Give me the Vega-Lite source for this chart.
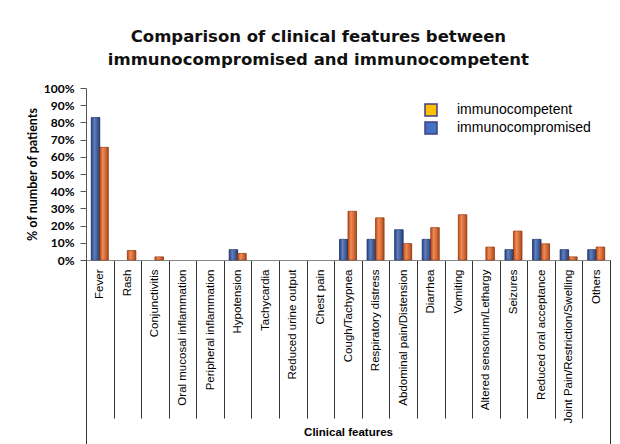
{
  "$schema": "https://vega.github.io/schema/vega-lite/v6.json",
  "width": 524,
  "height": 172,
  "autosize": {"type": "none"},
  "padding": {"left": 86, "top": 88, "right": 10, "bottom": 184},
  "background": "white",
  "title": {
    "text": ["Comparison of clinical features between", "immunocompromised and immunocompetent"],
    "font": "DejaVu Sans",
    "fontSize": 16.5,
    "fontWeight": "bold",
    "color": "#111111",
    "lineHeight": 23,
    "anchor": "middle",
    "frame": "bounds",
    "offset": 14
  },
  "data": {
    "values": [
      {"feature": "Fever", "group": "immunocompromised", "pct": 82.8},
      {"feature": "Fever", "group": "immunocompetent", "pct": 65.5},
      {"feature": "Rash", "group": "immunocompromised", "pct": 0},
      {"feature": "Rash", "group": "immunocompetent", "pct": 5.5},
      {"feature": "Conjunctivitis", "group": "immunocompromised", "pct": 0},
      {"feature": "Conjunctivitis", "group": "immunocompetent", "pct": 1.8},
      {"feature": "Oral mucosal inflammation", "group": "immunocompromised", "pct": 0},
      {"feature": "Oral mucosal inflammation", "group": "immunocompetent", "pct": 0},
      {"feature": "Peripheral inflammation", "group": "immunocompromised", "pct": 0},
      {"feature": "Peripheral inflammation", "group": "immunocompetent", "pct": 0},
      {"feature": "Hypotension", "group": "immunocompromised", "pct": 6},
      {"feature": "Hypotension", "group": "immunocompetent", "pct": 3.8},
      {"feature": "Tachycardia", "group": "immunocompromised", "pct": 0},
      {"feature": "Tachycardia", "group": "immunocompetent", "pct": 0},
      {"feature": "Reduced urine output", "group": "immunocompromised", "pct": 0},
      {"feature": "Reduced urine output", "group": "immunocompetent", "pct": 0},
      {"feature": "Chest pain", "group": "immunocompromised", "pct": 0},
      {"feature": "Chest pain", "group": "immunocompetent", "pct": 0},
      {"feature": "Cough/Tachypnea", "group": "immunocompromised", "pct": 12},
      {"feature": "Cough/Tachypnea", "group": "immunocompetent", "pct": 28.3},
      {"feature": "Respiratory distress", "group": "immunocompromised", "pct": 12},
      {"feature": "Respiratory distress", "group": "immunocompetent", "pct": 24.5},
      {"feature": "Abdominal pain/Distension", "group": "immunocompromised", "pct": 17.6},
      {"feature": "Abdominal pain/Distension", "group": "immunocompetent", "pct": 9.5},
      {"feature": "Diarrhea", "group": "immunocompromised", "pct": 12},
      {"feature": "Diarrhea", "group": "immunocompetent", "pct": 18.8},
      {"feature": "Vomiting", "group": "immunocompromised", "pct": 0},
      {"feature": "Vomiting", "group": "immunocompetent", "pct": 26.3},
      {"feature": "Altered sensorium/Lethargy", "group": "immunocompromised", "pct": 0},
      {"feature": "Altered sensorium/Lethargy", "group": "immunocompetent", "pct": 7.5},
      {"feature": "Seizures", "group": "immunocompromised", "pct": 6},
      {"feature": "Seizures", "group": "immunocompetent", "pct": 16.8},
      {"feature": "Reduced oral acceptance", "group": "immunocompromised", "pct": 12},
      {"feature": "Reduced oral acceptance", "group": "immunocompetent", "pct": 9.4},
      {"feature": "Joint Pain/Restriction/Swelling", "group": "immunocompromised", "pct": 6},
      {"feature": "Joint Pain/Restriction/Swelling", "group": "immunocompetent", "pct": 1.8},
      {"feature": "Others", "group": "immunocompromised", "pct": 6},
      {"feature": "Others", "group": "immunocompetent", "pct": 7.5}
    ]
  },
  "encoding": {
    "x": {
      "field": "feature",
      "type": "nominal",
      "sort": null,
      "scale": {"paddingInner": 0, "paddingOuter": 0}
    },
    "xOffset": {
      "field": "group",
      "type": "nominal",
      "sort": ["immunocompromised", "immunocompetent"],
      "scale": {"paddingInner": 0, "paddingOuter": 0.62}
    },
    "y": {
      "field": "pct",
      "type": "quantitative",
      "scale": {"domain": [0, 100], "nice": false},
      "axis": {
        "title": "% of number of patients",
        "titleFont": "Lato",
        "titleFontSize": 12.5,
        "titleFontWeight": "bold",
        "titleColor": "#000000",
        "titlePadding": 4,
        "values": [0, 10, 20, 30, 40, 50, 60, 70, 80, 90, 100],
        "labelExpr": "datum.value + '%'",
        "labelFont": "Lato",
        "labelFontSize": 12,
        "labelFontWeight": "bold",
        "labelColor": "#000000",
        "labelPadding": 6,
        "tickSize": 6,
        "tickColor": "#555555",
        "domainColor": "#555555",
        "grid": false
      }
    }
  },
  "layer": [
    {
      "mark": {"type": "bar", "strokeWidth": 0.8},
      "encoding": {
        "x": {
          "field": "feature",
          "type": "nominal",
          "sort": null,
          "axis": {
            "orient": "bottom",
            "title": "Clinical features",
            "titleFont": "Liberation Sans",
            "titleFontSize": 11.5,
            "titleFontWeight": "bold",
            "titleColor": "#000000",
            "titlePadding": 3,
            "labelAngle": -90,
            "labelFont": "Liberation Sans",
            "labelFontSize": 11.5,
            "labelColor": "#000000",
            "labelLimit": 0,
            "labelPadding": -149,
            "tickBand": "extent",
            "tickSize": 158,
            "tickColor": "#333333",
            "domainColor": "#888888"
          }
        },
        "fill": {
          "field": "group",
          "type": "nominal",
          "scale": {
            "domain": ["immunocompetent", "immunocompromised"],
            "range": ["#EC6420", "#2F56A6"]
          },
          "legend": null
        },
        "stroke": {
          "condition": [
            {"test": "datum.pct === 0", "value": "transparent"},
            {"test": "datum.group === 'immunocompetent'", "value": "#9E3A12"}
          ],
          "value": "#1C3570"
        }
      }
    },
    {
      "mark": {
        "type": "bar",
        "fill": {
          "gradient": "linear",
          "x1": 0, "x2": 1, "y1": 0, "y2": 0,
          "stops": [
            {"offset": 0, "color": "rgba(0,0,0,0.15)"},
            {"offset": 0.35, "color": "rgba(255,255,255,0.25)"},
            {"offset": 1, "color": "rgba(0,0,0,0.25)"}
          ]
        }
      },
      "encoding": {
        "x": {
          "field": "feature",
          "type": "nominal",
          "sort": null,
          "axis": {
            "orient": "bottom",
            "title": null,
            "labels": false,
            "domain": false,
            "values": ["Fever", "Others"],
            "tickBand": "extent",
            "tickSize": 184,
            "tickColor": {"condition": {"test": "datum.value === 'Fever'", "value": "transparent"}, "value": "#333333"}
          }
        }
      }
    },
    {
      "transform": [{"filter": "datum.pct < 0"}],
      "mark": {"type": "square", "filled": true, "stroke": "#3F3F80", "strokeWidth": 1.5, "opacity": 1},
      "encoding": {
        "x": {"field": "feature", "type": "nominal", "sort": null, "axis": null},
        "fill": {
          "field": "group",
          "type": "nominal",
          "scale": {
            "domain": ["immunocompetent", "immunocompromised"],
            "range": ["#FFC000", "#4472C4"]
          },
          "legend": {
            "orient": "none",
            "legendX": 338,
            "legendY": 15,
            "title": null,
            "symbolType": "square",
            "symbolSize": 144,
            "symbolStrokeWidth": 1.5,
            "symbolStrokeColor": "#3F3F80",
            "labelFont": "Liberation Sans",
            "labelFontSize": 14,
            "labelColor": "#000000",
            "labelOffset": 19,
            "rowPadding": 0
          }
        }
      }
    }
  ],
  "resolve": {"axis": {"x": "independent"}, "scale": {"fill": "independent"}},
  "config": {"view": {"stroke": null}}
}
